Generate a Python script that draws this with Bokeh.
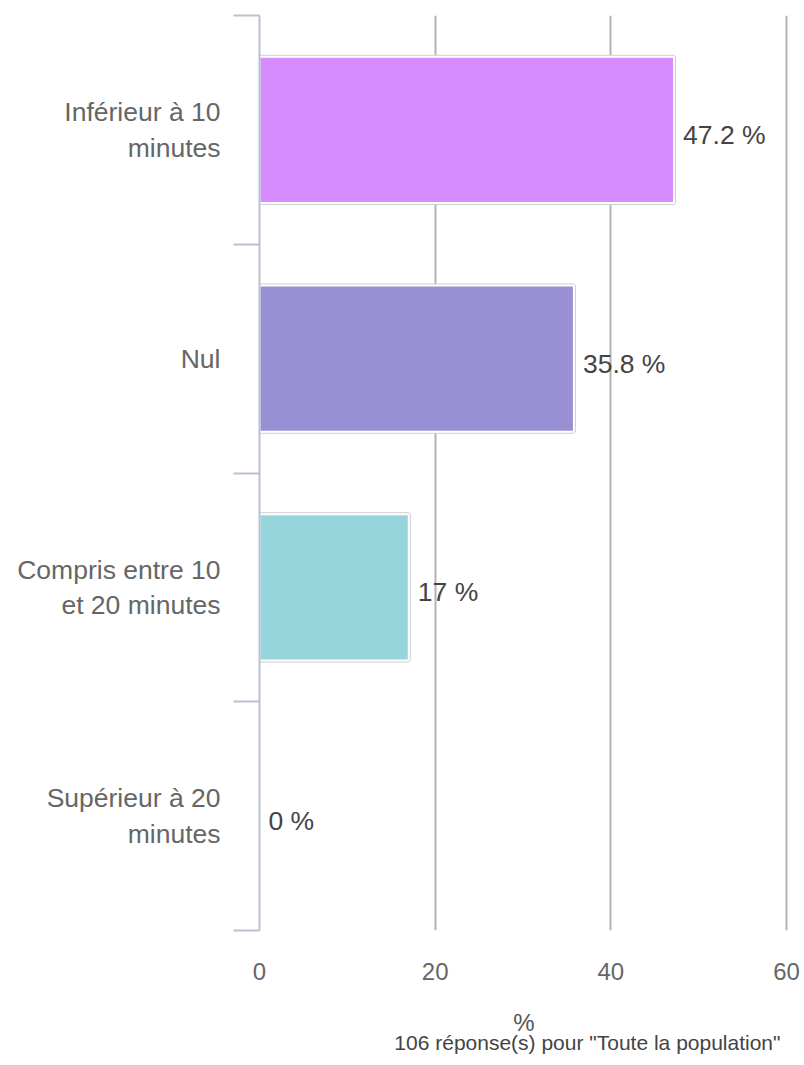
from bokeh.plotting import figure
from bokeh.models import Range1d, FixedTicker, ColumnDataSource, Title
from bokeh.core.properties import value
from bokeh.embed import file_html
from bokeh.resources import INLINE

# ---- data ----
categories = ["Inférieur à 10 minutes", "Nul", "Compris entre 10 et 20 minutes", "Supérieur à 20 minutes"]
category_labels = ["Inférieur à 10\nminutes", "Nul", "Compris entre 10\net 20 minutes", "Supérieur à 20\nminutes"]
percentages = [47.2, 35.8, 17, 0]
value_texts = ["47.2 %", "35.8 %", "17 %", "0 %"]
bar_colors = ["#d68cff", "#9990d4", "#96d5dc", "#cccccc"]
x_ticks = [0, 20, 40, 60]
x_axis_title = "%"
subtitle = '106 réponse(s) pour "Toute la population"'

FONT = "Liberation Sans"
n = len(categories)
centers = [i + 0.5 for i in range(n)]
bounds = [i for i in range(n + 1)]

p = figure(width=804, height=1065, output_backend="svg", toolbar_location=None,
           x_range=Range1d(0, 60.23), y_range=Range1d(n, 0),
           min_border_left=259, min_border_right=16, min_border_top=15, min_border_bottom=135)
p.outline_line_color = None
p.background_fill_color = "white"
p.border_fill_color = "white"

# grid
p.xgrid.ticker = FixedTicker(ticks=x_ticks)
p.xgrid.grid_line_color = "#b3b3b3"
p.xgrid.grid_line_width = 2
p.ygrid.grid_line_color = None

# bars (skip zero-length)
bar_src = ColumnDataSource(dict(
    y=[c for c, v in zip(centers, percentages) if v > 0],
    right=[v for v in percentages if v > 0],
    color=[col for col, v in zip(bar_colors, percentages) if v > 0],
))
p.hbar(y="y", left=0, right="right", height=0.64, source=bar_src,
       fill_color=None, line_color="#cfcfcf", line_width=4)
p.hbar(y="y", left=0, right="right", height=0.64, source=bar_src,
       fill_color="color", line_color="white", line_width=2)

# value labels
p.text(x=percentages, y=centers, text=value_texts, x_offset=9, y_offset=5,
       text_baseline="middle", text_align="left",
       text_font=value(FONT), text_font_size="26.5px", text_color="#444444")

# y axis
ya = p.yaxis[0]
ya.ticker = FixedTicker(ticks=centers, minor_ticks=bounds)
ya.major_label_overrides = {c: lab for c, lab in zip(centers, category_labels)}
ya.axis_line_color = "#b7c1d3"
ya.axis_line_width = 2
ya.major_tick_line_color = None
ya.major_tick_out = 0
ya.major_tick_in = 0
ya.minor_tick_line_color = "#b7c1d3"
ya.minor_tick_line_width = 2
ya.minor_tick_out = 26
ya.minor_tick_in = 0
ya.major_label_standoff = 13
ya.major_label_text_font = FONT
ya.major_label_text_font_size = "26.5px"
ya.major_label_text_color = "#666666"
ya.major_label_text_line_height = 1.18

# x axis
xa = p.xaxis[0]
xa.ticker = FixedTicker(ticks=x_ticks)
xa.axis_line_color = None
xa.major_tick_line_color = None
xa.minor_tick_line_color = None
xa.major_label_standoff = 26
xa.major_label_text_font = FONT
xa.major_label_text_font_size = "24px"
xa.major_label_text_color = "#666666"
xa.axis_label = x_axis_title
xa.axis_label_standoff = 26
xa.axis_label_text_font = FONT
xa.axis_label_text_font_size = "24px"
xa.axis_label_text_font_style = "normal"
xa.axis_label_text_color = "#555555"

# subtitle
p.add_layout(Title(text=subtitle, align="right", standoff=-19, offset=8,
                   text_font=FONT, text_font_size="21px", text_font_style="normal",
                   text_color="#444444"), "below")

open("out.html", "w").write(file_html(p, INLINE))
